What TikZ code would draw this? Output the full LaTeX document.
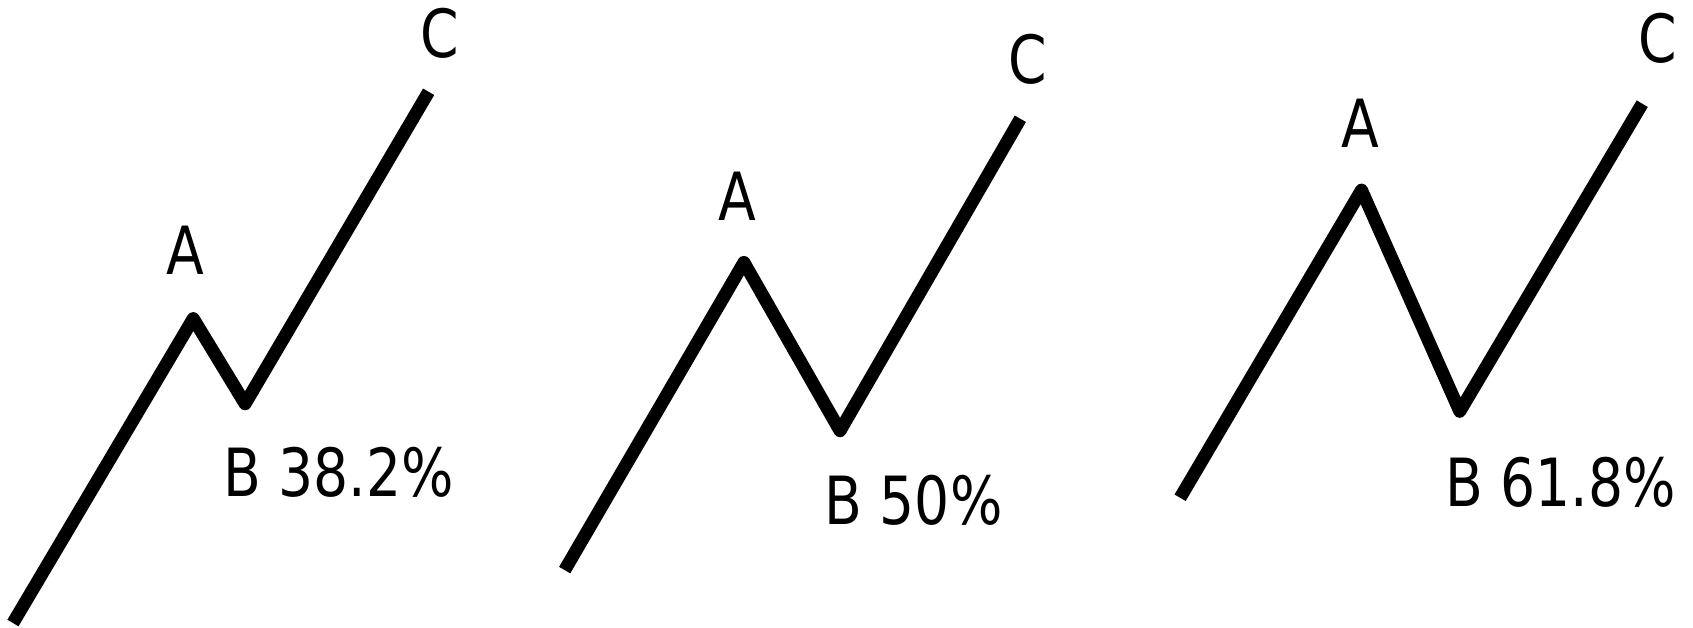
\documentclass[tikz,border=0pt]{standalone}
\usepackage{fontspec}
\setmainfont{DejaVu Sans}
\newfontfamily\lblfont[FakeStretch=0.83]{DejaVu Sans}
\usepackage{tikz}
\usetikzlibrary{positioning}

\begin{document}
\begin{tikzpicture}[x=0.01cm,y=-0.01cm]
  \tikzstyle{wave}=[line width=3.4pt,line join=round,line cap=butt]
  \tikzstyle{lbl}=[inner sep=0pt,anchor=base,font=\lblfont\fontsize{17.5}{21}\selectfont]
  \tikzstyle{pct}=[lbl,anchor=base west]
  \useasboundingbox (0,0) rectangle (1568,581);

  % 38.2%
  \coordinate (s1) at (12,577);
  \coordinate (a1) at (179,295);
  \coordinate (b1) at (227,374);
  \coordinate (c1) at (397,85);
  \node[lbl] (la1) at (172,254) {A};
  \node[lbl] (lc1) at (407,53) {C};
  \node[pct] (lb1) at (206,460) {B 38.2\%};
  \draw[wave] (s1) -- (a1) -- (b1) -- (c1);

  % 50%
  \coordinate (s2) at (523,528);
  \coordinate (a2) at (689,243);
  \coordinate (b2) at (778,399);
  \coordinate (c2) at (945,110);
  \node[lbl] (la2) at (683,204) {A};
  \node[lbl] (lc2) at (952,77) {C};
  \node[pct] (lb2) at (763,486) {B 50\%};
  \draw[wave] (s2) -- (a2) -- (b2) -- (c2);

  % 61.8%
  \coordinate (s3) at (1093,461);
  \coordinate (a3) at (1261,176);
  \coordinate (b3) at (1352,381);
  \coordinate (c3) at (1521,96);
  \node[lbl] (la3) at (1260,137) {A};
  \node[lbl] (lc3) at (1535,58) {C};
  \node[pct] (lb3) at (1338,469) {B 61.8\%};
  \draw[wave] (s3) -- (a3) -- (b3) -- (c3);
\end{tikzpicture}
\end{document}
